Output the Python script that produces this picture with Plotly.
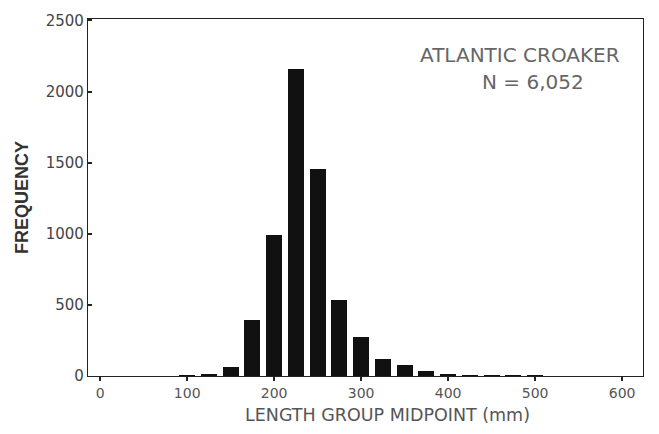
import plotly.graph_objects as go

midpoints = [100, 125, 150, 175, 200, 225, 250, 275, 300, 325, 350, 375, 400, 425, 450, 475, 500]
frequency = [5, 8, 60, 395, 988, 2155, 1455, 533, 275, 120, 80, 35, 15, 6, 4, 3, 2]

x_ticks = [0, 100, 200, 300, 400, 500, 600]
y_ticks = [0, 500, 1000, 1500, 2000, 2500]

fig = go.Figure()
fig.add_trace(go.Bar(
    x=midpoints, y=frequency, width=18.5,
    marker=dict(color="#111111", line=dict(width=0)),
    showlegend=False,
))

fig.update_layout(
    width=659, height=434,
    margin=dict(l=88, r=16, t=13, b=58),
    paper_bgcolor="white", plot_bgcolor="white",
    font=dict(family="DejaVu Sans, sans-serif", color="#333333"),
    bargap=0,
    annotations=[
        dict(x=0.962, y=0.898, xref="paper", yref="paper", xanchor="right", yanchor="middle",
             text="ATLANTIC CROAKER", showarrow=False,
             font=dict(family="DejaVu Sans, sans-serif", size=20, color="#666666")),
        dict(x=0.802, y=0.824, xref="paper", yref="paper", xanchor="center", yanchor="middle",
             text="N = 6,052", showarrow=False,
             font=dict(family="DejaVu Sans, sans-serif", size=20, color="#666666")),
        dict(x=0.539, y=-0.108, xref="paper", yref="paper", xanchor="center", yanchor="middle",
             text="LENGTH GROUP MIDPOINT (mm)", showarrow=False,
             font=dict(family="DejaVu Sans, sans-serif", size=17.5, color="#555555")),
    ],
)

fig.update_xaxes(
    range=[-14, 624], tickvals=x_ticks, ticktext=[str(v) for v in x_ticks],
    ticks="outside", ticklen=4, tickcolor="#222", tickwidth=1.5,
    showline=True, linecolor="#222", linewidth=1.2, mirror=True,
    showgrid=False, zeroline=False,
    tickfont=dict(size=14, color="#555555"),
)
fig.update_yaxes(
    range=[0, 2510], tickvals=y_ticks, ticktext=[str(v) for v in y_ticks],
    ticks="inside", ticklen=4, tickcolor="#222", tickwidth=1.5,
    showline=True, linecolor="#222", linewidth=1.2, mirror=True,
    showgrid=False, zeroline=False,
    tickfont=dict(size=15, color="#444444"),
    title=dict(text="<b>FREQUENCY</b>",
               font=dict(family="Liberation Sans, Arial, sans-serif", size=18, color="#333333"),
               standoff=12),
)

fig.write_html("out.html")
